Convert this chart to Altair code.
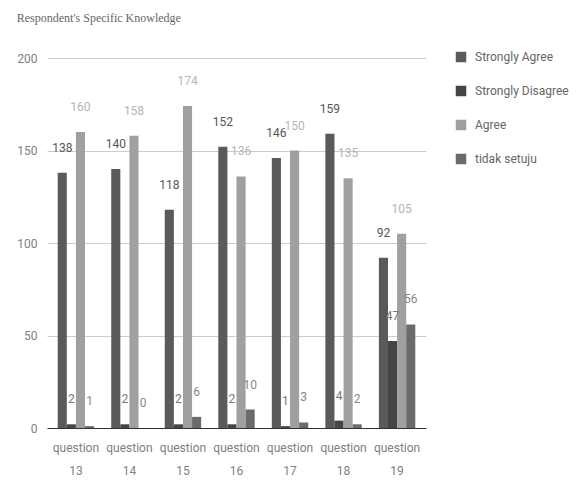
import altair as alt
import pandas as pd

questions = ["question 13", "question 14", "question 15", "question 16", "question 17", "question 18", "question 19"]
series = ["Strongly Agree", "Strongly Disagree", "Agree", "tidak setuju"]
strongly_agree = [138, 140, 118, 152, 146, 159, 92]
strongly_disagree = [2, 2, 2, 2, 1, 4, 47]
agree = [160, 158, 174, 136, 150, 135, 105]
tidak_setuju = [1, 0, 6, 10, 3, 2, 56]

bar_colors = ["#5a5a5a", "#454545", "#a0a0a0", "#6b6b6b"]
label_colors = ["#555555", "#777777", "#b5b5b5", "#888888"]

rows = []
for name, vals in zip(series, [strongly_agree, strongly_disagree, agree, tidak_setuju]):
    for q, v in zip(questions, vals):
        rows.append({"question": q, "series": name, "value": v})
df = pd.DataFrame(rows)

x_enc = alt.X("question:N", sort=questions, title=None,
              scale=alt.Scale(paddingInner=0.32, paddingOuter=0.2),
              axis=alt.Axis(labelAngle=0, labelExpr="split(datum.label, ' ')",
                            labelLineHeight=23, labelPadding=14, ticks=False,
                            domainColor="#333333", labelColor="#808080",
                            labelFont="Roboto", labelFontSize=12))
xo_enc = alt.XOffset("series:N", sort=series,
                     scale=alt.Scale(paddingInner=0, paddingOuter=0))

bars = alt.Chart(df).mark_bar().encode(
    x=x_enc,
    xOffset=xo_enc,
    y=alt.Y("value:Q", title=None,
            scale=alt.Scale(domain=[0, 200]),
            axis=alt.Axis(values=[0, 50, 100, 150, 200], ticks=False, domain=False,
                          gridColor="#cccccc", labelColor="#808080", labelPadding=10,
                          labelFont="Roboto", labelFontSize=12)),
    color=alt.Color("series:N", sort=series, title=None,
                    scale=alt.Scale(domain=series, range=bar_colors),
                    legend=alt.Legend(orient="none", legendX=408, legendY=-7,
                                      symbolType="square", symbolSize=110,
                                      symbolStrokeWidth=0, rowPadding=22,
                                      labelFont="Roboto", labelFontSize=12,
                                      labelColor="#666666", labelOffset=8)),
)

labels = alt.Chart(df).mark_text(baseline="middle", dy=-25, font="Roboto", fontSize=12).encode(
    x=alt.X("question:N", sort=questions),
    xOffset=xo_enc,
    y="value:Q",
    text="value:Q",
    color=alt.Color("series:N", sort=series,
                    scale=alt.Scale(domain=series, range=label_colors), legend=None),
)

chart = alt.layer(bars, labels).resolve_scale(color="independent").properties(
    width=379, height=370,
    autosize=alt.AutoSizeParams(type="none"),
    padding={"left": 47, "top": 58, "right": 151, "bottom": 52},
    title=alt.TitleParams("Respondent's Specific Knowledge", anchor="start",
                          offset=26, font="Liberation Serif", fontSize=12,
                          fontWeight="normal", color="#666666"),
).configure_view(stroke=None)

chart.save("out.html", embed_options={"renderer": "svg", "actions": False})
